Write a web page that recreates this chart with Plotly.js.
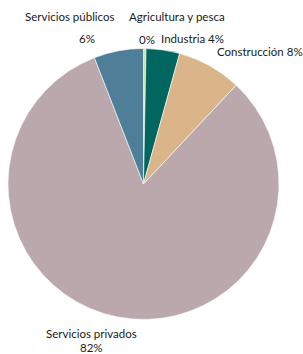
<!DOCTYPE html>
<html>
<head>
<meta charset="utf-8">
<script src="https://cdn.plot.ly/plotly-3.0.1.min.js"></script>
<style>html,body{margin:0;padding:0;background:#fff;}#chart{width:303px;height:354px;}</style>
</head>
<body>
<div id="chart"></div>
<script>
const categories = ["Agricultura y pesca", "Industria", "Construcción", "Servicios privados", "Servicios públicos"];
const values = [0.3, 4.0, 7.7, 82.1, 5.9];
const colors = ["#d5dcae", "#00665f", "#d9b589", "#bba8ad", "#4e7e98"];

const total = values.reduce((a, b) => a + b, 0);
const pct = values.map(v => Math.round(v / total * 100) + "%");

// label placement (pixel positions in the 303x354 frame), split name / percent
const W = 303, H = 354;
const labelPos = [
  {name: [177, 16], pct: [147, 39]},
  {joined: [192, 38]},
  {joined: [260, 51]},
  {name: [91, 333], pct: [91, 347]},
  {name: [70, 17], pct: [87, 38]}
];
const font = {family: "Lato, 'Open Sans', sans-serif", size: 11.5, color: "#1a1a1a"};
const annotations = [];
categories.forEach((c, i) => {
  const p = labelPos[i];
  const mk = (t, xy) => ({text: t, x: xy[0] / W, y: 1 - xy[1] / H, xref: "paper", yref: "paper",
    xanchor: "center", yanchor: "middle", showarrow: false, font: font});
  if (p.joined) annotations.push(mk(c + " " + pct[i], p.joined));
  else { annotations.push(mk(c, p.name)); annotations.push(mk(pct[i], p.pct)); }
});

const trace = {
  type: "pie",
  labels: categories,
  values: values,
  sort: false,
  direction: "clockwise",
  rotation: 0,
  textinfo: "none",
  hoverinfo: "label+percent",
  marker: {colors: colors, line: {color: "#ffffff", width: 0.6}},
  domain: {x: [8 / W, 279 / W], y: [1 - 320 / H, 1 - 48 / H]},
  showlegend: false
};

Plotly.newPlot("chart", [trace], {
  width: W, height: H,
  margin: {l: 0, r: 0, t: 0, b: 0},
  paper_bgcolor: "#ffffff",
  showlegend: false,
  annotations: annotations
}, {displayModeBar: false, staticPlot: true});
</script>
</body>
</html>
